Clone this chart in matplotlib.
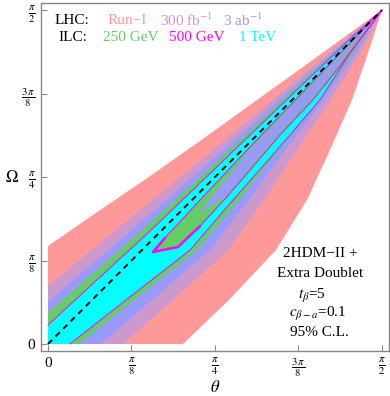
import numpy as np
import matplotlib
matplotlib.use("Agg")
import matplotlib.pyplot as plt

plt.rcParams["font.family"] = ["Liberation Serif", "DejaVu Serif"]
plt.rcParams["mathtext.fontset"] = "stix"

# allowed regions (95% C.L.), boundaries, in radians.
# upper edges: Omega at these theta columns; lower edges: theta at these Omega rows
UP_THETA = [0.0, 0.245, 0.480, 0.715, 0.950, 1.185, 1.420, 1.571]
LO_OMEGA = [0.0, 0.207, 0.442, 0.677, 0.912, 1.148, 1.383, 1.571]

RUN1_UP = [0.461, 0.630, 0.790, 0.955, 1.124, 1.293, 1.463, 1.571]
RUN1_LO = [0.635, 0.851, 1.072, 1.218, 1.326, 1.430, 1.510, 1.571]
FB300_UP = [0.273, 0.475, 0.668, 0.861, 1.058, 1.256, 1.449, 1.571]
FB300_LO = [0.353, 0.588, 0.847, 1.016, 1.171, 1.331, 1.477, 1.571]
AB3_UP = [0.198, 0.409, 0.611, 0.818, 1.025, 1.237, 1.444, 1.571]
AB3_LO = [0.249, 0.489, 0.762, 0.945, 1.115, 1.298, 1.458, 1.571]
GEV250_UP = [0.146, 0.362, 0.569, 0.785, 1.002, 1.223, 1.439, 1.571]
GEV250_LO = [0.146, 0.404, 0.701, 0.898, 1.086, 1.284, 1.444, 1.571]
TEV1_UP = [0.089, 0.315, 0.531, 0.757, 0.983, 1.209, 1.434, 1.571]
TEV1_LO = [0.103, 0.367, 0.668, 0.870, 1.077, 1.279, 1.430, 1.571]

# wedge where 1 TeV excludes but 250/500 GeV allow (theta, Omega)
HOLE_UP_T = [0.494, 0.550, 0.715, 0.950, 1.185, 1.420, 1.571]
HOLE_UP_O = [0.433, 0.499, 0.677, 0.927, 1.171, 1.416, 1.571]
HOLE_LO_T = [0.494, 0.611, 0.715, 0.837, 0.959, 1.091, 1.246, 1.373, 1.491, 1.571]
HOLE_LO_O = [0.433, 0.456, 0.555, 0.687, 0.828, 0.983, 1.148, 1.307, 1.463, 1.571]
# inner wedge excluded by 250 GeV too
GAP_UP_T = [0.705, 0.950, 1.185, 1.420, 1.571]
GAP_UP_O = [0.611, 0.912, 1.157, 1.404, 1.571]
GAP_LO_T = [0.705, 0.837, 0.959, 1.091, 1.246, 1.373, 1.491, 1.571]
GAP_LO_O = [0.611, 0.696, 0.842, 0.997, 1.162, 1.322, 1.472, 1.571]

DIAG = [0.0, np.pi / 2]
TICKS = [0, np.pi / 8, np.pi / 4, 3 * np.pi / 8, np.pi / 2]
TICK_LABELS = ["0", r"$\frac{\pi}{8}$", r"$\frac{\pi}{4}$", r"$\frac{3\,\pi}{8}$", r"$\frac{\pi}{2}$"]

C_RUN1 = "#FF9999"
C_300 = "#CC99CC"
C_3AB = "#9999FF"
C_250 = "#66CC66"
C_500 = "#FF00FF"
C_1TEV = "#00FFFF"


def band(up, lo):
    xs = [0.0] + UP_THETA + lo[::-1][1:]
    ys = [0.0] + up + LO_OMEGA[::-1][1:]
    return xs, ys


fig = plt.figure(figsize=(3.9, 3.96), dpi=100)
ax = fig.add_axes([0.1051, 0.1136, 0.8923, 0.8788])

for up, lo, col in [(RUN1_UP, RUN1_LO, C_RUN1), (FB300_UP, FB300_LO, C_300),
                    (AB3_UP, AB3_LO, C_3AB), (GEV250_UP, GEV250_LO, C_250),
                    (TEV1_UP, TEV1_LO, C_1TEV)]:
    xs, ys = band(up, lo)
    ax.fill(xs, ys, color=col, lw=0)

# 500 GeV boundary just outside the 1 TeV band
ax.plot(UP_THETA, TEV1_UP, color=C_500, lw=0.7)
ax.plot(TEV1_LO, LO_OMEGA, color=C_500, lw=0.7)

hx = HOLE_UP_T + HOLE_LO_T[::-1][1:]
hy = HOLE_UP_O + HOLE_LO_O[::-1][1:]
ax.fill(hx, hy, facecolor=C_250, edgecolor=C_500, lw=0.7)
# thicker 500 GeV rim around the tip of the wedge
ax.plot(HOLE_LO_T[:3][::-1] + HOLE_UP_T[:2], HOLE_LO_O[:3][::-1] + HOLE_UP_O[:2],
        color=C_500, lw=1.8, solid_capstyle="round")
gx = GAP_UP_T + GAP_LO_T[::-1][1:]
gy = GAP_UP_O + GAP_LO_O[::-1][1:]
ax.fill(gx, gy, color=C_3AB, lw=0)

ax.plot(DIAG, DIAG, color="black", lw=1.4, ls=(0, (3, 2.5)))

ax.set_xlim(-0.0329, 1.604)
ax.set_ylim(-0.0329, 1.604)
ax.set_xticks(TICKS)
ax.set_xticklabels(TICK_LABELS)
ax.set_yticks(TICKS)
ax.set_yticklabels(TICK_LABELS)
ax.tick_params(direction="in", length=4, color="#888888", labelsize=11, pad=4)
for sp in ax.spines.values():
    sp.set_color("#888888")
    sp.set_linewidth(1.0)

ax.text(-0.083, 0.497, r"$\Omega$", transform=ax.transAxes, fontsize=12,
        ha="center", va="center")
ax.text(0.5, -0.106, r"$\theta$", transform=ax.transAxes, fontsize=12,
        ha="center", va="center")

fs = 11
ax.text(0.040, 0.951, "LHC:", transform=ax.transAxes, fontsize=fs, va="center")
ax.text(0.190, 0.951, "Run\u2212I", color=C_RUN1, transform=ax.transAxes, fontsize=fs, va="center")
ax.text(0.342, 0.951, r"300 fb$^{-1}$", color=C_300, transform=ax.transAxes, fontsize=fs, va="center")
ax.text(0.523, 0.951, r"3 ab$^{-1}$", color=C_3AB, transform=ax.transAxes, fontsize=fs, va="center")
ax.text(0.049, 0.902, "ILC:", transform=ax.transAxes, fontsize=fs, va="center")
ax.text(0.178, 0.902, "250 GeV", color=C_250, transform=ax.transAxes, fontsize=fs, va="center")
ax.text(0.367, 0.902, "500 GeV", color=C_500, transform=ax.transAxes, fontsize=fs, va="center")
ax.text(0.569, 0.902, "1 TeV", color=C_1TEV, transform=ax.transAxes, fontsize=fs, va="center")

ax.text(0.802, 0.279, "2HDM\u2212II +", transform=ax.transAxes, fontsize=fs, ha="center", va="center")
ax.text(0.802, 0.224, "Extra Doublet", transform=ax.transAxes, fontsize=fs, ha="center", va="center")
ax.text(0.780, 0.158, r"$t_\beta$=5", transform=ax.transAxes, fontsize=fs, ha="center", va="center")
ax.text(0.795, 0.106, r"$c_{\beta-a}$=0.1", transform=ax.transAxes, fontsize=fs, ha="center", va="center")
ax.text(0.800, 0.052, "95% C.L.", transform=ax.transAxes, fontsize=fs, ha="center", va="center")

fig.savefig("out.png", dpi=100)
